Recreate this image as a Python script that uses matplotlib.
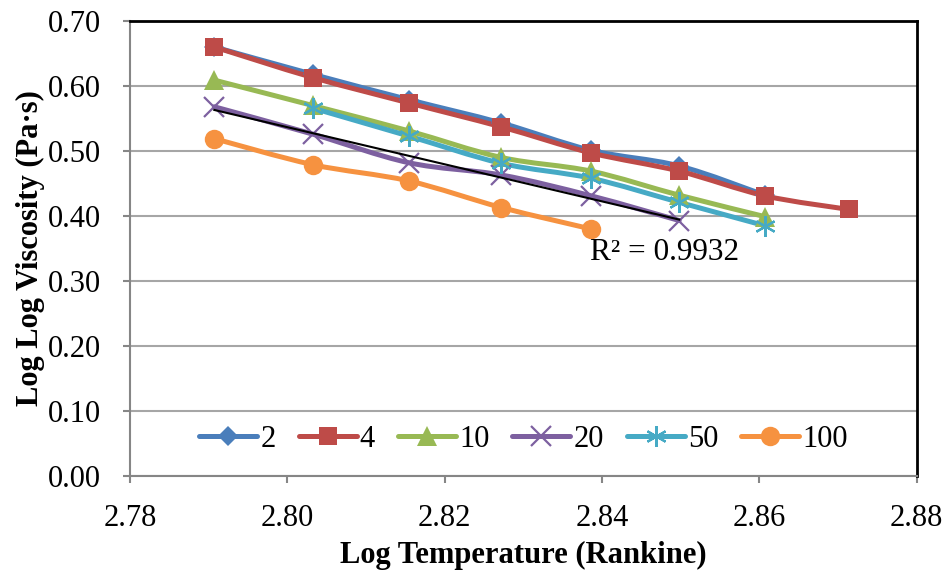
import numpy as np
import matplotlib.pyplot as plt
from matplotlib.path import Path
from matplotlib.patches import PathPatch
from matplotlib.lines import Line2D

plt.rcParams['font.family'] = ['Liberation Serif', 'DejaVu Serif']

# log10 of temperature in Rankine (70..140 C)
log_temp = [2.7907, 2.8032, 2.8154, 2.8272, 2.8386, 2.8498, 2.8607, 2.8714]

y_2 = [0.660, 0.618, 0.579, 0.543, 0.501, 0.477, 0.432]
y_4 = [0.660, 0.613, 0.574, 0.537, 0.497, 0.469, 0.431, 0.410]
y_10 = [0.609, 0.570, 0.531, 0.490, 0.469, 0.432, 0.399]
y_20 = [0.568, 0.526, 0.482, 0.463, 0.431, 0.393]
y_50 = [0.566, 0.523, 0.481, 0.458, 0.421, 0.385]   # starts at 2nd temperature
y_100 = [0.519, 0.479, 0.454, 0.413, 0.380]

labels = ['2', '4', '10', '20', '50', '100']
series = [y_2, y_4, y_10, y_20, y_50, y_100]
starts = [0, 0, 0, 0, 1, 0]
colors = ['#4A7EBB', '#BE4B48', '#98B954', '#7D60A0', '#46AAC5', '#F69240']
markers = ['D', 's', '^', 'x', (6, 2, 0), 'o']
msizes = [10, 13, 14, 14, 15, 14]

FS = 22

fig = plt.figure(figsize=(9.5, 5.76), dpi=100)
ax = fig.add_axes([0.137, 0.1736, 0.828, 0.79])


def smooth_path(xs, ys):
    # excel style smoothed line: catmull-rom as cubic bezier
    p = np.column_stack([xs, ys])
    verts = [p[0]]
    codes = [Path.MOVETO]
    n = len(p)
    for i in range(n - 1):
        p0 = p[i - 1] if i > 0 else p[i]
        p3 = p[i + 2] if i + 2 < n else p[i + 1]
        c1 = p[i] + (p[i + 1] - p0) / 6
        c2 = p[i + 1] - (p3 - p[i]) / 6
        verts += [c1, c2, p[i + 1]]
        codes += [Path.CURVE4] * 3
    return Path(verts, codes)


handles = []
for ys, s0, lab, c, m, ms in zip(series, starts, labels, colors, markers, msizes):
    xs = log_temp[s0:s0 + len(ys)]
    mew = 1.6 if m in ('x', (6, 2, 0)) else 0
    ax.add_patch(PathPatch(smooth_path(xs, ys), fc='none', ec=c, lw=3.6,
                           capstyle='round', joinstyle='round'))
    ax.plot(xs, ys, ls='none', marker=m, ms=ms, mec=c, mfc=c, mew=mew)
    handles.append(Line2D([], [], color=c, lw=3.6, marker=m, ms=ms, mec=c,
                          mfc=c, mew=mew, solid_capstyle='round', label=lab))

# linear trendline on the 20 series
xt = np.array(log_temp[:len(y_20)])
k, b = np.polyfit(xt, y_20, 1)
ax.plot(xt, k * xt + b, color='black', lw=1.5, zorder=5)
ax.text(2.848, 0.344, 'R² = 0.9932', fontsize=22.5, ha='center', va='center')

ax.set_xlim(2.78, 2.88)
ax.set_ylim(0, 0.70)
ax.set_xticks(np.arange(2.78, 2.881, 0.02))
ax.set_yticks(np.arange(0, 0.701, 0.1))
ax.xaxis.set_major_formatter(plt.FormatStrFormatter('%.2f'))
ax.yaxis.set_major_formatter(plt.FormatStrFormatter('%.2f'))
ax.tick_params(labelsize=FS, direction='out', length=5, width=1.5,
               color='#868686')
ax.yaxis.set_tick_params(pad=16)
ax.xaxis.set_tick_params(pad=15)
ax.yaxis.grid(True, color='#A6A6A6', lw=1.5)
ax.set_axisbelow(True)
for s in ['left', 'bottom']:
    ax.spines[s].set_color('#868686')
    ax.spines[s].set_linewidth(1.5)
for s in ['top', 'right']:
    ax.spines[s].set_color('black')
    ax.spines[s].set_linewidth(2)

ax.set_xlabel('Log Temperature (Rankine)', fontsize=FS, fontweight='bold', labelpad=6)
ax.set_ylabel('Log Log Viscosity (Pa·s)', fontsize=FS, fontweight='bold', labelpad=2)

ax.legend(handles=handles, loc='center', bbox_to_anchor=(0.5, 0.081), ncol=6,
          frameon=False, fontsize=FS, handlelength=1.9, handletextpad=0.1,
          columnspacing=0.75, borderpad=0, borderaxespad=0)

fig.savefig('out.png', dpi=100)
